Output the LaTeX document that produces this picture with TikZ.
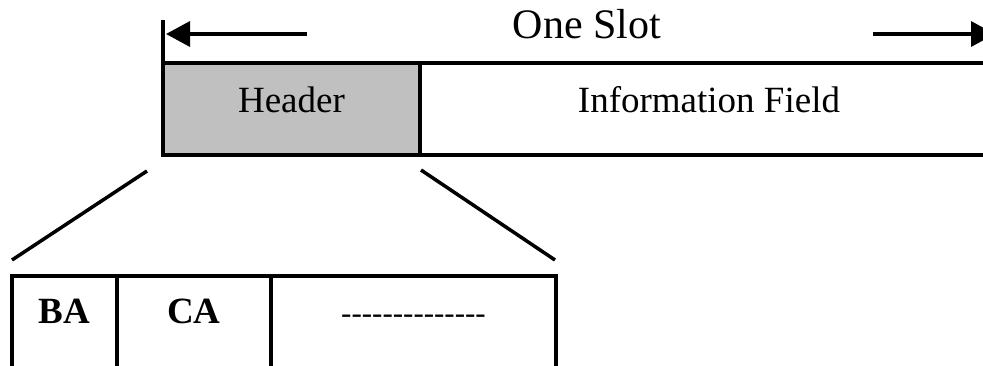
\documentclass[tikz,border=0pt]{standalone}
\usepackage{fontspec}
\setmainfont{Liberation Serif}
\usetikzlibrary{arrows.meta, positioning, calc}

\definecolor{hdrgray}{HTML}{C0C0C0}

\begin{document}
\begin{tikzpicture}[
  x=1pt, y=-1pt,
  field/.style={rectangle, draw, line width=3.5pt, inner sep=0pt, outer sep=0pt, anchor=north west, align=center,
    font=\fontsize{37}{40}\selectfont},
  slotfield/.style={field, minimum height=92pt, text height=26pt, text depth=20pt},
  subfield/.style={field, minimum height=96pt, text height=26pt, text depth=28pt, font=\fontsize{37}{40}\selectfont\bfseries},
  arrow/.style={-{Triangle[length=24pt, width=25pt]}, line width=3.5pt},
  tick/.style={line width=3.5pt},
  zoomline/.style={line width=3.5pt}
]

\clip (0,0) rectangle (983,365);

% ------------------------------------------------------------
% Slot
% ------------------------------------------------------------

\node[slotfield, fill=hdrgray, minimum width=257pt] (hdr) at (163,63) {Header};
\node[slotfield, minimum width=578pt, right=0pt of hdr] (info) {Information Field};

\node[anchor=base, font=\fontsize{42}{45}\selectfont] (slot) at (587,38) {One Slot};

\coordinate (ltick) at (163,20);
\coordinate (rtick) at (998,20);
\coordinate (lstart) at (307,34);
\coordinate (lend) at (166,34);
\coordinate (rstart) at (873,34);
\coordinate (rend) at (995,34);

\draw[tick] (hdr.north west) -- (ltick);
\draw[tick] (info.north east) -- (rtick);
\draw[arrow] (lstart) -- (lend);
\draw[arrow] (rstart) -- (rend);

% ------------------------------------------------------------
% Header fields
% ------------------------------------------------------------

\node[subfield, minimum width=105pt] (ba) at (12,276) {BA};
\node[subfield, minimum width=154pt, right=0pt of ba] (ca) {CA};
\node[subfield, minimum width=285pt, right=0pt of ca, font=\fontsize{31}{34}\selectfont]
  (rest) {-{}-{}-{}-{}-{}-{}-{}-{}-{}-{}-{}-{}-{}-};

\coordinate (zl1) at ($(hdr.south west)+(-16,16)$);
\coordinate (zl2) at ($(ba.north west)+(0,-16)$);
\coordinate (zr1) at ($(hdr.south east)+(1,15)$);
\coordinate (zr2) at ($(rest.north east)+(-1,-16)$);

\draw[zoomline] (zl1) -- (zl2);
\draw[zoomline] (zr1) -- (zr2);

\end{tikzpicture}
\end{document}
